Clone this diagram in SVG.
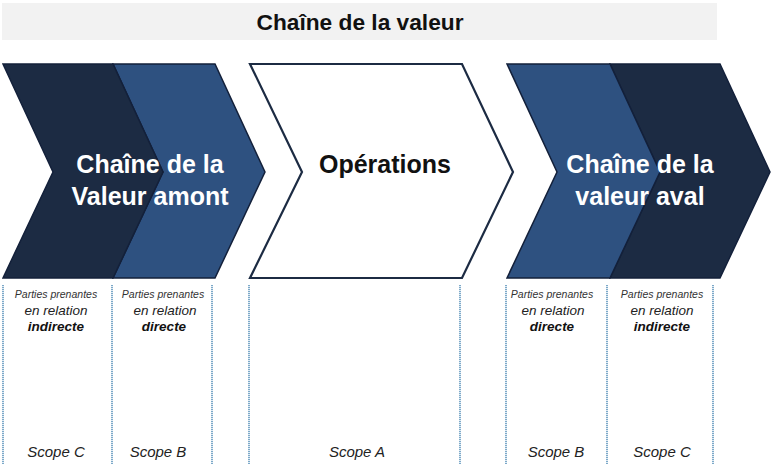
<svg xmlns="http://www.w3.org/2000/svg" width="771" height="472" viewBox="0 0 771 472">
<style>
.dark{fill:#1c2b43;stroke:#13203a;stroke-width:1.5}
.blue{fill:#2e5180;stroke:#13203a;stroke-width:1.5}
.white{fill:#ffffff;stroke:#1c2b43;stroke-width:2.2}
.big{font-family:"Liberation Sans",Arial,sans-serif;font-weight:bold;font-size:25px;text-anchor:middle}
.sm{font-family:"Liberation Sans",Arial,sans-serif;font-style:italic;font-size:10.5px;fill:#333;text-anchor:middle}
.md{font-family:"Liberation Sans",Arial,sans-serif;font-style:italic;font-size:13.5px;fill:#222;text-anchor:middle}
.mdb{font-family:"Liberation Sans",Arial,sans-serif;font-style:italic;font-weight:bold;font-size:13.5px;fill:#111;text-anchor:middle}
.sc{font-family:"Liberation Sans",Arial,sans-serif;font-style:italic;font-size:15px;fill:#222;text-anchor:middle}
.col{stroke:#6fa0c4;stroke-width:1.8;stroke-dasharray:1.2 0.8;fill:none}
</style>
<rect x="0" y="0" width="771" height="472" fill="#ffffff"/>
<g id="title">
<rect x="2" y="3" width="715" height="37" fill="#f2f2f2"/>
<text x="360" y="30" font-family="'Liberation Sans',Arial,sans-serif" font-weight="bold" font-size="22" text-anchor="middle" fill="#111" textLength="207" lengthAdjust="spacingAndGlyphs">Chaîne de la valeur</text>
</g>
<g id="amont">
<polygon class="blue" points="113,64 215,64 265,172 215,278 113,278 163,172"/>
<polygon class="dark" points="3,64 113,64 163,172 113,278 3,278 53,172"/>
<text class="big" x="150" y="173" fill="#ffffff">Chaîne de la</text>
<text class="big" x="150" y="205" fill="#ffffff">Valeur amont</text>
</g>
<g id="operations">
<polygon class="white" points="250,64 462,64 513,172 462,278 250,278 302,172"/>
<text class="big" x="385" y="173" fill="#111">Opérations</text>
</g>
<g id="aval">
<polygon class="dark" points="610,64 720,64 770,172 720,278 610,278 660,172"/>
<polygon class="blue" points="507,64 610,64 660,172 610,278 507,278 557,172"/>
<text class="big" x="640" y="173" fill="#ffffff">Chaîne de la</text>
<text class="big" x="640" y="205" fill="#ffffff">valeur aval</text>
</g>
<g id="columns">
<line class="col" x1="3" y1="285" x2="3" y2="464"/>
<line class="col" x1="112" y1="285" x2="112" y2="464"/>
<line class="col" x1="212" y1="285" x2="212" y2="464"/>
<line class="col" x1="249" y1="285" x2="249" y2="464"/>
<line class="col" x1="460" y1="285" x2="460" y2="464"/>
<line class="col" x1="506" y1="285" x2="506" y2="464"/>
<line class="col" x1="607" y1="285" x2="607" y2="464"/>
<line class="col" x1="713" y1="285" x2="713" y2="464"/>
</g>
<g id="col-amont-c">
<text class="sm" x="56" y="298">Parties prenantes</text>
<text class="md" x="56" y="315">en relation</text>
<text class="mdb" x="56" y="331">indirecte</text>
<text class="sc" x="56" y="457">Scope C</text>
</g>
<g id="col-amont-b">
<text class="sm" x="163" y="298">Parties prenantes</text>
<text class="md" x="165" y="315">en relation</text>
<text class="mdb" x="164" y="331">directe</text>
<text class="sc" x="158" y="457">Scope B</text>
</g>
<g id="col-ops">
<text class="sc" x="357" y="457">Scope A</text>
</g>
<g id="col-aval-b">
<text class="sm" x="552" y="298">Parties prenantes</text>
<text class="md" x="553" y="315">en relation</text>
<text class="mdb" x="552" y="331">directe</text>
<text class="sc" x="556" y="457">Scope B</text>
</g>
<g id="col-aval-c">
<text class="sm" x="662" y="298">Parties prenantes</text>
<text class="md" x="662" y="315">en relation</text>
<text class="mdb" x="662" y="331">indirecte</text>
<text class="sc" x="662" y="457">Scope C</text>
</g>
</svg>
